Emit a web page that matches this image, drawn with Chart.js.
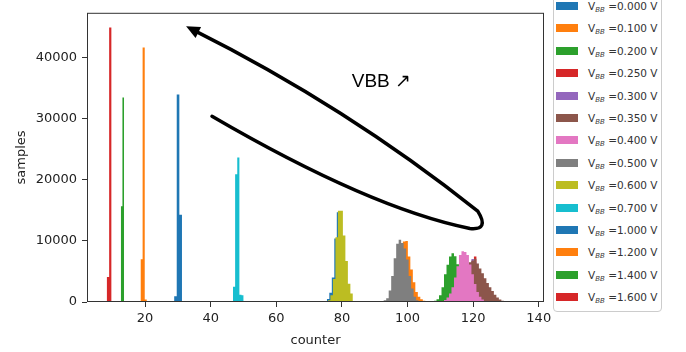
<!DOCTYPE html>
<html>
<head>
<meta charset="utf-8">
<script src="https://cdn.jsdelivr.net/npm/chart.js@4/dist/chart.umd.min.js"></script>
<style>
html, body { margin: 0; padding: 0; background: #fff; overflow: hidden; }
#wrap { position: relative; width: 686px; height: 352px; }
#legendBox { position: absolute; left: 553px; top: -6px; width: 109px; height: 318px; border: 1px solid #ccc; border-radius: 4px; box-sizing: border-box; background: #fff; }
.row { position: absolute; left: 556px; height: 12px; line-height: 12px; white-space: nowrap; font-family: 'DejaVu Sans', sans-serif; font-size: 10.5px; color: #333; }
.sw { position: absolute; left: 0; top: 2px; width: 22px; height: 8px; }
.tx { position: absolute; left: 32px; top: 0; }
.tx sub { font-size: 7px; font-style: italic; vertical-align: -2px; line-height: 0; }
</style>
</head>
<body>
<div id="wrap">
  <canvas id="histChart" width="686" height="352"></canvas>
  <div id="legendBox"></div>
</div>
<script>
// bias voltages (legend order) and matplotlib tab10 colours
const voltages = ['0.000', '0.100', '0.200', '0.250', '0.300', '0.350', '0.400',
                  '0.500', '0.600', '0.700', '1.000', '1.200', '1.400', '1.600'];
const colors = ['#1f77b4', '#ff7f0e', '#2ca02c', '#d62728', '#9467bd', '#8c564b', '#e377c2',
                '#7f7f7f', '#bcbd22', '#17becf', '#1f77b4', '#ff7f0e', '#2ca02c', '#d62728'];

// histogram bins: first edge and bin width (counter units) per series
const binStart = [75.40, 94.02, 107.32, 116.44, 115.68, 113.40, 110.36,
                  91.98, 75.74, 46.80, 28.85, 18.60, 12.60, 8.30];
const binWidth = [0.76, 0.76, 0.76, 0.76, 0.76, 0.76, 0.76,
                  0.76, 0.76, 0.65, 0.80, 0.65, 0.50, 0.75];

// samples per bin
const c0000 = [500, 1500, 4000, 10400, 14700, 14600, 10500, 6200, 2700, 1000];
const c0100 = [200, 700, 2000, 4500, 7000, 9000, 9900, 9990, 7450, 5340, 3220, 1630, 840, 450, 200, 80];
const c0200 = [100, 200, 450, 1100, 2400, 4550, 6100, 7450, 7980, 7500, 6200, 4500, 2800, 1500, 700, 250];
const c0250 = [3000, 4500, 5800, 6300, 6700, 7450, 4900, 3400, 2200, 1200, 500];
const c0300 = [2500, 4000, 5500, 6000, 6400, 7050, 6500, 4500, 3000, 1800, 900, 300];
const c0350 = [400, 900, 1800, 3000, 4200, 5300, 6000, 6500, 6800, 7100, 6300, 5500, 4700, 3900,
               3100, 2400, 1800, 1200, 750, 400, 200, 80];
const c0400 = [150, 320, 750, 1380, 2430, 4010, 5870, 7720, 8300, 8200, 7720, 6130, 4550, 2960, 1640, 850, 430, 150];
const c0500 = [150, 300, 600, 1900, 4280, 7180, 9560, 10200, 9670, 8770, 6980, 4280, 2220, 840, 300];
const c0600 = [300, 1100, 3750, 10600, 14950, 14950, 10900, 6700, 3000, 1400];
const c0700 = [2500, 20950, 23700, 1200, 1100];
const c1000 = [950, 34000, 14300];
const c1200 = [7000, 41700, 400];
const c1400 = [15700, 33500];
const c1600 = [4100, 45000];
const counts = [c0000, c0100, c0200, c0250, c0300, c0350, c0400,
                c0500, c0600, c0700, c1000, c1200, c1400, c1600];

const xTicks = [20, 40, 60, 80, 100, 120, 140];
const yTicks = [0, 10000, 20000, 30000, 40000];

// hand-drawn annotation, in counter / samples units
const arrowPath = {
  start: [40.4, 30440],
  lowerCtrl: [88.5, 15380], lowerEnd: [119.0, 12050],
  turnCtrl: [125.1, 11730], turnEnd: [121.4, 14900],
  upperCtrl: [81.4, 32020], tip: [32.5, 45180]
};
const noteText = 'VBB \u2197';
const notePos = [83.0, 35300];

const datasets = voltages.map((v, i) => {
  const pts = counts[i].map((c, k) => ({ x: binStart[i] + k * binWidth[i], y: c }));
  pts.push({ x: binStart[i] + counts[i].length * binWidth[i], y: 0 });
  return {
    label: 'VBB =' + v + ' V',
    data: pts,
    backgroundColor: colors[i],
    borderColor: colors[i],
    borderWidth: 0,
    pointRadius: 0,
    pointHoverRadius: 0,
    stepped: true,
    fill: 'origin',
    order: voltages.length - i
  };
});

const frame = {
  id: 'frame',
  afterDraw(chart) {
    const { ctx, chartArea: a } = chart;
    ctx.save();
    ctx.strokeStyle = '#333';
    ctx.lineWidth = 1;
    ctx.strokeRect(a.left + 0.5, a.top + 0.5, a.right - a.left - 1, a.bottom - a.top - 1);
    ctx.restore();
  }
};

const annotation = {
  id: 'annotation',
  afterDraw(chart) {
    const { ctx } = chart;
    const sx = chart.scales.x, sy = chart.scales.y;
    const P = p => [sx.getPixelForValue(p[0]), sy.getPixelForValue(p[1])];
    const s = P(arrowPath.start), lc = P(arrowPath.lowerCtrl), le = P(arrowPath.lowerEnd);
    const tc = P(arrowPath.turnCtrl), te = P(arrowPath.turnEnd);
    const uc = P(arrowPath.upperCtrl), tip = P(arrowPath.tip);
    ctx.save();
    ctx.strokeStyle = '#000';
    ctx.fillStyle = '#000';
    ctx.lineWidth = 3.5;
    ctx.lineCap = 'round';
    ctx.lineJoin = 'round';
    ctx.beginPath();
    ctx.moveTo(s[0], s[1]);
    ctx.quadraticCurveTo(lc[0], lc[1], le[0], le[1]);
    ctx.quadraticCurveTo(tc[0], tc[1], te[0], te[1]);
    ctx.quadraticCurveTo(uc[0], uc[1], tip[0] + 6, tip[1] + 3);
    ctx.stroke();
    // arrow head
    const ang = Math.atan2(tip[1] - uc[1], tip[0] - uc[0]);
    const len = 15, half = 0.42;
    ctx.beginPath();
    ctx.moveTo(tip[0], tip[1]);
    ctx.lineTo(tip[0] - len * Math.cos(ang - half), tip[1] - len * Math.sin(ang - half));
    ctx.lineTo(tip[0] - len * Math.cos(ang + half), tip[1] - len * Math.sin(ang + half));
    ctx.closePath();
    ctx.fill();
    // label
    const np = P(notePos);
    ctx.font = '19px "Liberation Sans", sans-serif';
    ctx.textBaseline = 'alphabetic';
    ctx.fillText(noteText, np[0], np[1]);
    ctx.restore();
  }
};

const tickFont = { family: 'DejaVu Sans', size: 13 };

new Chart(document.getElementById('histChart').getContext('2d'), {
  type: 'line',
  data: { datasets },
  options: {
    responsive: false,
    animation: false,
    events: [],
    layout: { padding: { top: 3, right: 142, left: 0, bottom: 0 } },
    plugins: { legend: { display: false }, tooltip: { enabled: false } },
    scales: {
      x: {
        type: 'linear',
        min: 2.3,
        max: 141.6,
        afterBuildTicks: s => { s.ticks = xTicks.map(v => ({ value: v })); },
        afterFit: s => { s.height = 50; },
        grid: { display: true, drawOnChartArea: false, drawTicks: true, tickLength: 5, tickColor: '#333' },
        border: { display: false },
        ticks: { color: '#222', font: tickFont, padding: 4, maxRotation: 0, autoSkip: false, callback: v => String(v) },
        title: { display: true, text: 'counter', color: '#222', font: tickFont, padding: { top: 0, bottom: 4 } }
      },
      y: {
        type: 'linear',
        min: 0,
        max: 47400,
        afterBuildTicks: s => { s.ticks = yTicks.map(v => ({ value: v })); },
        afterFit: s => { s.width = 87; },
        grid: { display: true, drawOnChartArea: false, drawTicks: true, tickLength: 5, tickColor: '#333' },
        border: { display: false },
        ticks: { color: '#222', font: tickFont, padding: 5, callback: v => String(v) },
        title: { display: true, text: 'samples', color: '#222', font: tickFont, padding: { top: 14, bottom: 0 } }
      }
    }
  },
  plugins: [frame, annotation]
});

// legend outside the axes, rows 22.4px apart
const wrap = document.getElementById('wrap');
voltages.forEach((v, i) => {
  const row = document.createElement('div');
  row.className = 'row';
  row.style.top = (6 + 22.4 * i - 6) + 'px';
  row.innerHTML = '<span class="sw" style="background:' + colors[i] + '"></span>' +
                  '<span class="tx">V<sub>BB</sub> =' + v + ' V</span>';
  wrap.appendChild(row);
});
</script>
</body>
</html>
